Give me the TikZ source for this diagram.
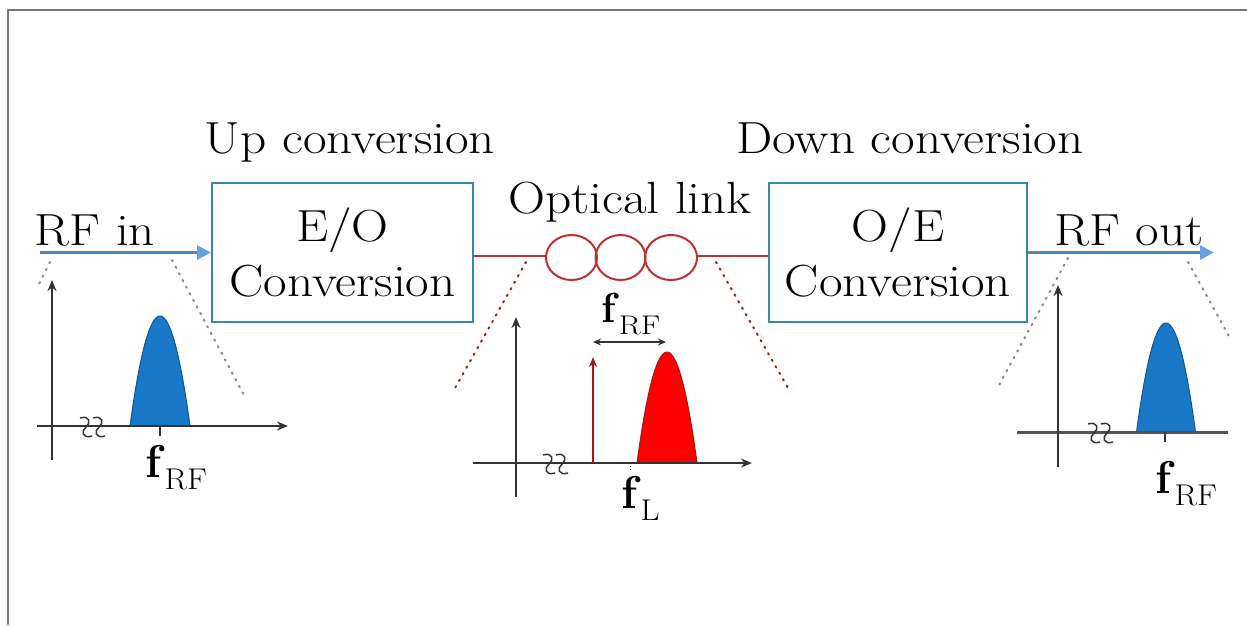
\documentclass[tikz,border=0pt]{standalone}
\usepackage{fontspec}
\usepackage{graphicx}
\usetikzlibrary{arrows.meta}
\definecolor{boxc}{HTML}{3A86A8}
\definecolor{arrc}{HTML}{4F86C0}
\definecolor{arrh}{HTML}{6AA0E0}
\definecolor{linkr}{HTML}{C03030}
\definecolor{darkr}{HTML}{A01818}
\definecolor{pkblue}{HTML}{1A78C8}
\definecolor{pkred}{HTML}{FF0000}
\definecolor{axc}{HTML}{333333}
\definecolor{dotg}{HTML}{7A8A9A}
\definecolor{framec}{HTML}{777777}
\newcommand\wide[1]{\scalebox{1.14}[1]{#1}}
\newcommand\freq[1]{\textbf{f}\raisebox{-12pt}{\fontsize{30}{30}\selectfont\scalebox{1.1}[1]{#1}}}
\newcommand\axbreak[2]{%
  \draw[axc, line width=1.5pt] (#1-6,#2-9) .. controls (#1+4,#2-12) and (#1+5,#2-4) .. (#1,#2)
     .. controls (#1-5,#2+4) and (#1-4,#2+12) .. (#1+6,#2+9);}
\begin{document}
\begin{tikzpicture}[x=1pt,y=-1pt,
  big/.style={font=\fontsize{45}{55}\selectfont},
  lbl/.style={big, anchor=base, inner sep=0pt},
  flbl/.style={font=\fontsize{46}{50}\selectfont, anchor=base west, inner sep=0pt},
  convbox/.style={draw=boxc, line width=2pt, big, align=center, inner sep=0pt,
                  minimum width=261pt, minimum height=139pt},
  bluearrow/.style={arrc, line width=3pt,
                  -{Triangle[length=14pt,width=14pt,fill=arrh,color=arrh]}},
  redlink/.style={linkr, line width=2pt},
  axis/.style={axc, line width=2pt, -{Stealth[length=11pt,width=9pt]}},
  dotblue/.style={dotg, line width=2pt, line cap=round, dash pattern=on 1.5pt off 6pt},
  dotred/.style={darkr, line width=2pt, line cap=round, dash pattern=on 1.5pt off 6pt},
  pkb/.style={fill=pkblue, draw=pkblue!70!black, line width=1pt},
  pkr/.style={fill=pkred, draw=darkr, line width=1pt}]
\useasboundingbox (0,0) rectangle (1247,625);
% frame
\draw[framec, line width=2pt] (8,625) -- (8,10) -- (1247,10);

% titles
\node[lbl] (up) at (350,153) {\wide{Up conversion}};
\node[lbl] (down) at (910,153) {\wide{Down conversion}};
\node[lbl] (opt) at (630,213) {\wide{Optical link}};
\node[lbl] (rfinl) at (95,245) {\wide{RF in}};
\node[lbl] (rfoutl) at (1129,245) {\wide{RF out}};

% boxes
\node[convbox] (eo) at (342.5,252.5) {\wide{E/O}\\\wide{Conversion}};
\node[convbox, minimum width=258pt] (oe) at (898,252.5) {\wide{O/E}\\\wide{Conversion}};

% RF arrows
\coordinate (rfin) at (40,252.5);
\coordinate (rfout) at (1214,252.5);
\draw[bluearrow] (rfin) -- (eo.west);
\draw[bluearrow] (oe.east) -- (rfout);

% optical link coil
\coordinate (c1) at (546,256);
\coordinate (c2) at (697,256);
\draw[redlink] (eo.east |- c1) -- (c1);
\draw[redlink] (c2) -- (oe.west |- c2);
\draw[redlink] (571.5,257.5) ellipse [x radius=25.5, y radius=22.5];
\draw[redlink] (620.5,257.5) ellipse [x radius=25, y radius=22.5];
\draw[redlink] (671,257.5) ellipse [x radius=26, y radius=22.5];

% dotted zoom lines
\draw[dotblue] (50,262) -- (37,288);
\draw[dotblue] (172,260) -- (245,397);
\draw[dotred] (526,262) -- (455,388);
\draw[dotred] (716,262) -- (788,388);
\draw[dotblue] (1068,258) -- (998,387);
\draw[dotblue] (1188,262) -- (1230,338);

% ---- left spectrum
\fill[pkb] plot[domain=-1:1, samples=41, smooth] ({160+30*\x},{426-110*(1-\x*\x)}) -- cycle;
\draw[axis] (37,426) -- (288,426);
\draw[axis] (52,460) -- (52,280);
\axbreak{86}{427}
\axbreak{99}{427}
\draw[axc, line width=1.5pt] (160,426) -- (160,436);
\node[flbl] (fl1) at (145,477) {\freq{RF}};

% ---- middle spectrum
\fill[pkr] plot[domain=-1:1, samples=41, smooth] ({667+30*\x},{463-111*(1-\x*\x)}) -- cycle;
\draw[axis] (473,463) -- (752,463);
\draw[axis] (516,497) -- (516,317);
\axbreak{549}{464}
\axbreak{562}{464}
\draw[darkr, line width=2pt, -{Stealth[length=10pt,width=8pt]}] (593,463) -- (593,357);
\draw[axc, line width=1.5pt, {Stealth[length=8pt,width=7pt]}-{Stealth[length=8pt,width=7pt]}] (593,342) -- (666,342);
\draw[axc, line width=1pt, dotted] (630,463) -- (630,470);
\node[flbl, font=\fontsize{42}{46}\selectfont] (fm1) at (601,322) {\textbf{f}\raisebox{-12pt}{\fontsize{27}{27}\selectfont\scalebox{1.2}[1]{RF}}};
\node[flbl] (fm2) at (621,508) {\freq{L}};

% ---- right spectrum
\fill[pkb] plot[domain=-1:1, samples=41, smooth] ({1166+29.5*\x},{432-109*(1-\x*\x)}) -- cycle;
\draw[axc!85!white, line width=3pt] (1017,432) -- (1228,432);
\draw[axis] (1058,467) -- (1058,285);
\axbreak{1094}{433}
\axbreak{1107}{433}
\draw[axc, line width=1.5pt] (1165,432) -- (1165,442);
\node[flbl] (fr1) at (1155,493) {\freq{RF}};
\end{tikzpicture}
\end{document}
